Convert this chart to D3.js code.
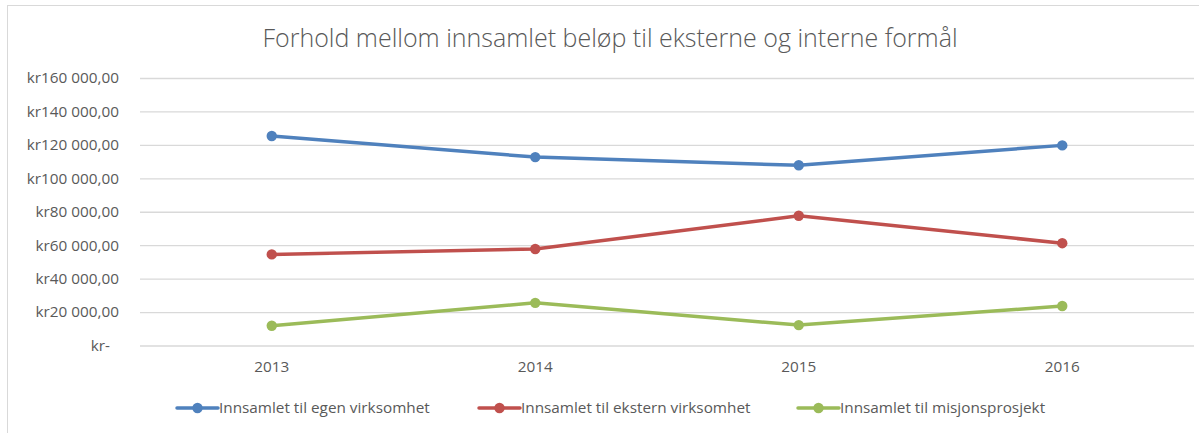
<!DOCTYPE html>
<html>
<head>
<meta charset="utf-8">
<script src="https://cdn.jsdelivr.net/npm/d3@7"></script>
<style>
  html, body { margin: 0; padding: 0; background: #fff; }
  svg { display: block; }
  text { font-family: "Open Sans", "Noto Sans", sans-serif; fill: #595959; }
</style>
</head>
<body>
<svg id="chart" width="1199" height="433"></svg>
<script>
// Innsamlede beløp per år, fordelt på formål
const years = ["2013", "2014", "2015", "2016"];
const seriesNames = [
  "Innsamlet til egen virksomhet",
  "Innsamlet til ekstern virksomhet",
  "Innsamlet til misjonsprosjekt"
];
const egenVirksomhet = [125300, 112700, 107800, 119700];
const eksternVirksomhet = [54500, 57700, 77600, 61200];
const misjonsprosjekt = [11800, 25500, 12200, 23600];
const yTicks = [0, 20000, 40000, 60000, 80000, 100000, 120000, 140000, 160000];
const colors = ["#4F81BD", "#C0504D", "#9BBB59"];

const series = [egenVirksomhet, eksternVirksomhet, misjonsprosjekt].map((vals, i) => ({
  name: seriesNames[i], color: colors[i], values: vals
}));

const svg = d3.select("#chart");
const labelSize = "15.3px";

// Chart frame
svg.append("rect")
  .attr("x", 7.5).attr("y", 5.5)
  .attr("width", 1199).attr("height", 440)
  .attr("fill", "none").attr("stroke", "#D9D9D9").attr("stroke-width", 1);

// Title
svg.append("text")
  .attr("x", 610).attr("y", 47)
  .attr("text-anchor", "middle")
  .style("font-size", "25px")
  .style("font-weight", 300)
  .text("Forhold mellom innsamlet beløp til eksterne og interne formål");

const plot = { left: 140, right: 1194, top: 78, bottom: 345.5 };

const x = d3.scaleBand().domain(years).range([plot.left, plot.right]);
const y = d3.scaleLinear().domain([0, 160000]).range([plot.bottom, plot.top]);

const fmt = v => v === 0 ? "kr-" :
  "kr" + d3.format(",.2f")(v).replace(/,/g, " ").replace(/\.(\d\d)$/, ",$1");

// Gridlines + y labels
const yAxis = d3.axisLeft(y).tickValues(yTicks).tickFormat(fmt)
  .tickSize(-(plot.right - plot.left)).tickPadding(21);
const gy = svg.append("g").attr("transform", `translate(${plot.left},0)`).call(yAxis);
gy.select(".domain").remove();
gy.selectAll(".tick line").attr("stroke", "#D9D9D9").attr("stroke-width", 1.3);
gy.selectAll(".tick text")
  .style("font-size", labelSize).attr("fill", "#595959")
  .attr("x", -21)
  .attr("dx", d => d === 0 ? -9 : 0);

// x labels
const xAxis = d3.axisBottom(x).tickSize(0).tickPadding(16);
const gx = svg.append("g").attr("transform", `translate(0,${plot.bottom})`).call(xAxis);
gx.select(".domain").remove();
gx.selectAll(".tick text").style("font-size", labelSize).attr("fill", "#595959");

// Lines and markers
const line = d3.line()
  .x((d, i) => x(years[i]) + x.bandwidth() / 2)
  .y(d => y(d));

series.forEach(s => {
  svg.append("path")
    .datum(s.values)
    .attr("d", line)
    .attr("fill", "none")
    .attr("stroke", s.color)
    .attr("stroke-width", 3.5)
    .attr("stroke-linejoin", "round")
    .attr("stroke-linecap", "round");
  svg.selectAll(null)
    .data(s.values)
    .join("circle")
    .attr("cx", (d, i) => x(years[i]) + x.bandwidth() / 2)
    .attr("cy", d => y(d))
    .attr("r", 5.2)
    .attr("fill", s.color);
});

// Legend
const legendX = [177, 479, 798];
const legendY = 408;
series.forEach((s, i) => {
  const g = svg.append("g").attr("transform", `translate(${legendX[i]},${legendY})`);
  g.append("line").attr("x1", 0).attr("x2", 41).attr("y1", 0).attr("y2", 0)
    .attr("stroke", s.color).attr("stroke-width", 3.5).attr("stroke-linecap", "round");
  g.append("circle").attr("cx", 20.5).attr("cy", 0).attr("r", 5.2).attr("fill", s.color);
  g.append("text").attr("x", 42).attr("y", 0).attr("dy", "0.35em")
    .style("font-size", labelSize).text(s.name);
});
</script>
</body>
</html>
